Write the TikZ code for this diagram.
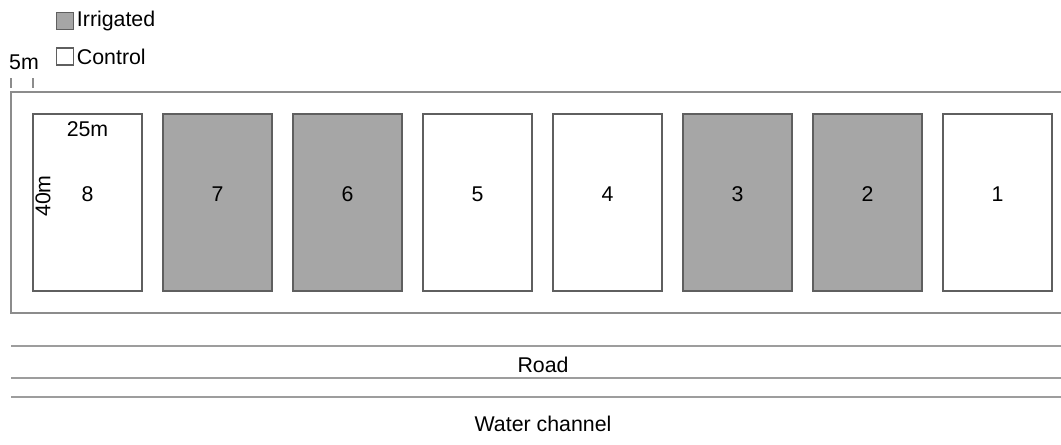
\documentclass[tikz,border=0pt]{standalone}
\usepackage{fontspec}
\setmainfont{Liberation Sans}
\usetikzlibrary{positioning}
\definecolor{irrgray}{HTML}{A6A6A6}
\definecolor{edgegray}{HTML}{5F5F5F}
\definecolor{framegray}{HTML}{8C8C8C}
\tikzset{every node/.style={font=\fontsize{16}{19}\selectfont, inner sep=0pt}}
\tikzset{plotbox/.style={draw=edgegray, line width=0.9pt, minimum width=81.75pt, minimum height=132.75pt}}
\tikzset{legbox/.style={draw=edgegray, line width=0.8pt, minimum size=12.75pt}}
\tikzset{framebox/.style={draw=framegray, line width=0.8pt}}
\tikzset{roadline/.style={draw=framegray!85, line width=0.8pt}}

\begin{document}
\begin{tikzpicture}[x=0.75pt, y=-0.75pt]
    \useasboundingbox (0,0) rectangle (1061,444);
    % legend
    \node[legbox, fill=irrgray] (irr) at (65,21) {};
    \node[right=2pt of irr] (irrtxt) {Irrigated};
    \node[legbox, fill=white] (ctl) at (65,56.5) {};
    \node[right=2pt of ctl] (ctltxt) {Control};
    % border width
    \node (five) at (24,62) {5m};
    \coordinate (t1) at (11,78);
    \coordinate (t2) at (33,78);
    \draw[framebox] (t1) -- ++(0,10);
    \draw[framebox] (t2) -- ++(0,10);
    % field
    \draw[framebox] (1061,92) -- (11,92) -- (11,313) -- (1061,313);
    \foreach \i/\f in {8/white,7/irrgray,6/irrgray,5/white,4/white,3/irrgray,2/irrgray,1/white}{
        \pgfmathsetmacro\xc{87.5+(8-\i)*130}
        \node[plotbox, fill=\f] (p\i) at (\xc,202.5) {};
        \node (n\i) at ([yshift=6pt]p\i.center) {\i};
    }
    \node[below=6pt of p8.north] (wd) {25m};
    \node[rotate=90] (ht) at (43,196) {40m};
    % road and channel
    \draw[roadline] (11,346) -- (1061,346);
    \draw[roadline] (11,378) -- (1061,378);
    \draw[roadline] (11,397) -- (1061,397);
    \node (road) at (543,365) {Road};
    \node (chan) at (543,424) {Water channel};
\end{tikzpicture}
\end{document}
